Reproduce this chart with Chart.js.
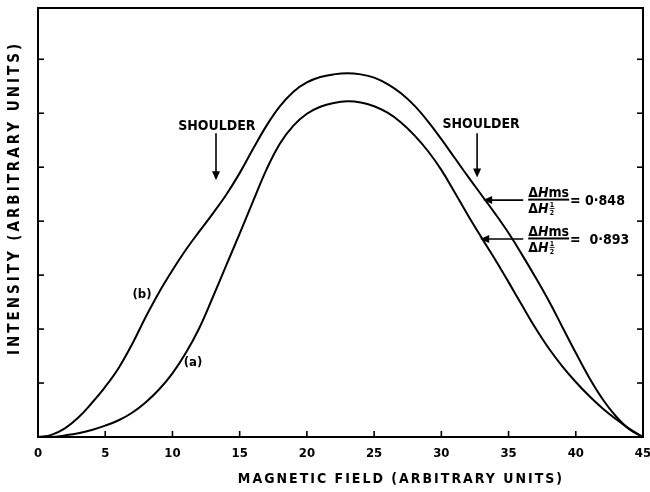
<!DOCTYPE html>
<html><head><meta charset="utf-8">
<script src="https://cdn.jsdelivr.net/npm/chart.js@4"></script>
<style>html,body{margin:0;padding:0;background:#fff}</style>
</head><body>
<canvas id="c" width="650" height="492"></canvas>
<script>
// ---- data ----
const xTickValues = [0, 5, 10, 15, 20, 25, 30, 35, 40, 45];
const fieldValues = [0, 1, 2, 3, 4, 5, 6, 7, 8, 9, 10, 11, 12, 13, 14, 15, 16, 17, 18, 19, 20, 21, 22, 23, 24, 25, 26, 27, 28, 29, 30, 31, 32, 33, 34, 35, 36, 37, 38, 39, 40, 41, 42, 43, 44, 45];
const curveB = [0, 0.04, 0.16, 0.36, 0.63, 0.93, 1.28, 1.72, 2.22, 2.68, 3.09, 3.47, 3.81, 4.14, 4.49, 4.89, 5.34, 5.77, 6.13, 6.40, 6.57, 6.67, 6.72, 6.74, 6.72, 6.66, 6.54, 6.37, 6.14, 5.85, 5.52, 5.17, 4.82, 4.48, 4.14, 3.78, 3.38, 2.96, 2.52, 2.04, 1.56, 1.10, 0.70, 0.38, 0.14, 0];
const curveA = [0, 0.0, 0.03, 0.07, 0.13, 0.21, 0.31, 0.45, 0.64, 0.88, 1.18, 1.56, 2.02, 2.59, 3.18, 3.77, 4.37, 4.96, 5.44, 5.77, 5.99, 6.12, 6.19, 6.22, 6.20, 6.13, 6.01, 5.83, 5.59, 5.30, 4.95, 4.53, 4.10, 3.69, 3.29, 2.87, 2.44, 2.02, 1.64, 1.31, 1.02, 0.76, 0.53, 0.33, 0.15, 0];
const ratioValues = ['0·848', '0·893'];

// ---- annotations (data-space anchors) ----
const labelNotes = [
  {text: 'SHOULDER', x: 13.3, y: 5.76},
  {text: 'SHOULDER', x: 32.96, y: 5.80},
  {text: '(b)', x: 7.74, y: 2.63},
  {text: '(a)', x: 11.53, y: 1.37}
];
const downArrows = [
  {x: 13.24, y1: 5.63, y2: 4.76},
  {x: 32.66, y1: 5.63, y2: 4.81}
];
const ratioArrows = [
  {y: 4.39, xTail: 36.09, xTip: 33.11},
  {y: 3.67, xTail: 36.09, xTip: 32.89}
];

const FONT = '"DejaVu Sans Condensed", "DejaVu Sans", sans-serif';

function pts(xs, ys) { return xs.map((x, i) => ({x: x, y: ys[i]})); }

const overlay = {
  id: 'overlay',
  afterDraw(chart) {
    const ctx = chart.ctx;
    const a = chart.chartArea;
    const xs = chart.scales.x, ys = chart.scales.y;
    ctx.save();
    ctx.strokeStyle = '#000';
    ctx.fillStyle = '#000';
    ctx.lineWidth = 2;
    ctx.strokeRect(a.left, a.top, a.right - a.left, a.bottom - a.top);
    ctx.lineWidth = 1.6;
    xTickValues.forEach(v => {
      if (v === 0 || v === 45) return;
      const px = xs.getPixelForValue(v);
      ctx.beginPath(); ctx.moveTo(px, a.bottom); ctx.lineTo(px, a.bottom - 6); ctx.stroke();
    });
    for (let v = 1; v < ys.max; v++) {
      const py = ys.getPixelForValue(v);
      ctx.beginPath(); ctx.moveTo(a.left, py); ctx.lineTo(a.left + 6, py); ctx.stroke();
      ctx.beginPath(); ctx.moveTo(a.right, py); ctx.lineTo(a.right - 6, py); ctx.stroke();
    }
    ctx.textAlign = 'center';
    ctx.textBaseline = 'middle';
    labelNotes.forEach(n => {
      ctx.font = (n.text.length > 3 ? 'bold 14px ' : 'bold 13px ') + FONT;
      ctx.fillText(n.text, xs.getPixelForValue(n.x), ys.getPixelForValue(n.y));
    });
    ctx.lineWidth = 1.6;
    downArrows.forEach(d => {
      const px = xs.getPixelForValue(d.x);
      const p1 = ys.getPixelForValue(d.y1), p2 = ys.getPixelForValue(d.y2);
      ctx.beginPath(); ctx.moveTo(px, p1); ctx.lineTo(px, p2 - 6); ctx.stroke();
      ctx.beginPath(); ctx.moveTo(px - 4, p2 - 9); ctx.lineTo(px + 4, p2 - 9); ctx.lineTo(px, p2); ctx.closePath(); ctx.fill();
    });
    ratioArrows.forEach((r, i) => {
      const py = ys.getPixelForValue(r.y);
      const tail = xs.getPixelForValue(r.xTail), tip = xs.getPixelForValue(r.xTip);
      ctx.beginPath(); ctx.moveTo(tail, py); ctx.lineTo(tip + 6, py); ctx.stroke();
      ctx.beginPath(); ctx.moveTo(tip + 9, py - 4); ctx.lineTo(tip + 9, py + 4); ctx.lineTo(tip, py); ctx.closePath(); ctx.fill();
      const x0 = tail + 5;
      ctx.textAlign = 'left';
      ctx.textBaseline = 'alphabetic';
      let x = x0;
      const nb = py - 3;
      ctx.font = 'bold 14px ' + FONT; ctx.fillText('Δ', x, nb); x += ctx.measureText('Δ').width;
      ctx.font = 'italic bold 14px ' + FONT; ctx.fillText('H', x, nb); x += ctx.measureText('H').width;
      ctx.font = 'bold 14px ' + FONT; ctx.fillText('ms', x, nb); x += ctx.measureText('ms').width;
      const numW = x - x0;
      ctx.fillRect(x0, py - 1.5, numW, 2);
      x = x0;
      const db = py + 13;
      ctx.font = 'bold 14px ' + FONT; ctx.fillText('Δ', x, db); x += ctx.measureText('Δ').width;
      ctx.font = 'italic bold 14px ' + FONT; ctx.fillText('H', x, db); x += ctx.measureText('H').width + 1;
      ctx.font = 'bold 7px ' + FONT;
      ctx.textAlign = 'center';
      ctx.fillText('1', x + 2.5, db - 6);
      ctx.fillRect(x, db - 5, 5, 0.8);
      ctx.fillText('2', x + 2.5, db + 2);
      ctx.textAlign = 'left';
      ctx.textBaseline = 'middle';
      ctx.font = 'bold 14px ' + FONT;
      ctx.fillText((i === 0 ? '= ' : '=  ') + ratioValues[i], x0 + numW + 1, py + 1);
    });
    ctx.textAlign = 'center';
    ctx.textBaseline = 'middle';
    ctx.font = 'bold 14px ' + FONT;
    if ('letterSpacing' in ctx) ctx.letterSpacing = '2px';
    ctx.fillText('MAGNETIC FIELD (ARBITRARY UNITS)', 401, 479);
    ctx.translate(15, 198);
    ctx.rotate(-Math.PI / 2);
    if ('letterSpacing' in ctx) ctx.letterSpacing = '3px';
    ctx.font = 'bold 15px ' + FONT;
    ctx.fillText('INTENSITY (ARBITRARY UNITS)', 0, 0);
    ctx.restore();
  }
};

new Chart(document.getElementById('c'), {
  type: 'scatter',
  data: {
    datasets: [
      {label: '(b)', data: pts(fieldValues, curveB), showLine: true, borderColor: '#000', borderWidth: 2, pointRadius: 0, tension: 0.4, fill: false},
      {label: '(a)', data: pts(fieldValues, curveA), showLine: true, borderColor: '#000', borderWidth: 2, pointRadius: 0, tension: 0.4, fill: false}
    ]
  },
  options: {
    responsive: false,
    animation: false,
    layout: {padding: {left: 0, right: 7, top: 8, bottom: 0}},
    plugins: {legend: {display: false}, tooltip: {enabled: false}},
    scales: {
      x: {
        type: 'linear', min: 0, max: 45,
        afterBuildTicks(s) { s.ticks = xTickValues.map(v => ({value: v})); },
        ticks: {color: '#000', font: {family: FONT, size: 13, weight: 'bold'}, padding: 9, maxRotation: 0, autoSkip: false},
        grid: {display: false, drawTicks: false},
        border: {display: false},
        afterFit(s) { s.height = 55; s.paddingLeft = 0; s.paddingRight = 0; }
      },
      y: {
        min: 0, max: 7.95,
        ticks: {display: false, stepSize: 1},
        grid: {display: false, drawTicks: false},
        border: {display: false},
        afterFit(s) { s.width = 38; s.paddingTop = 0; s.paddingBottom = 0; }
      }
    }
  },
  plugins: [overlay]
});
</script>
</body></html>
